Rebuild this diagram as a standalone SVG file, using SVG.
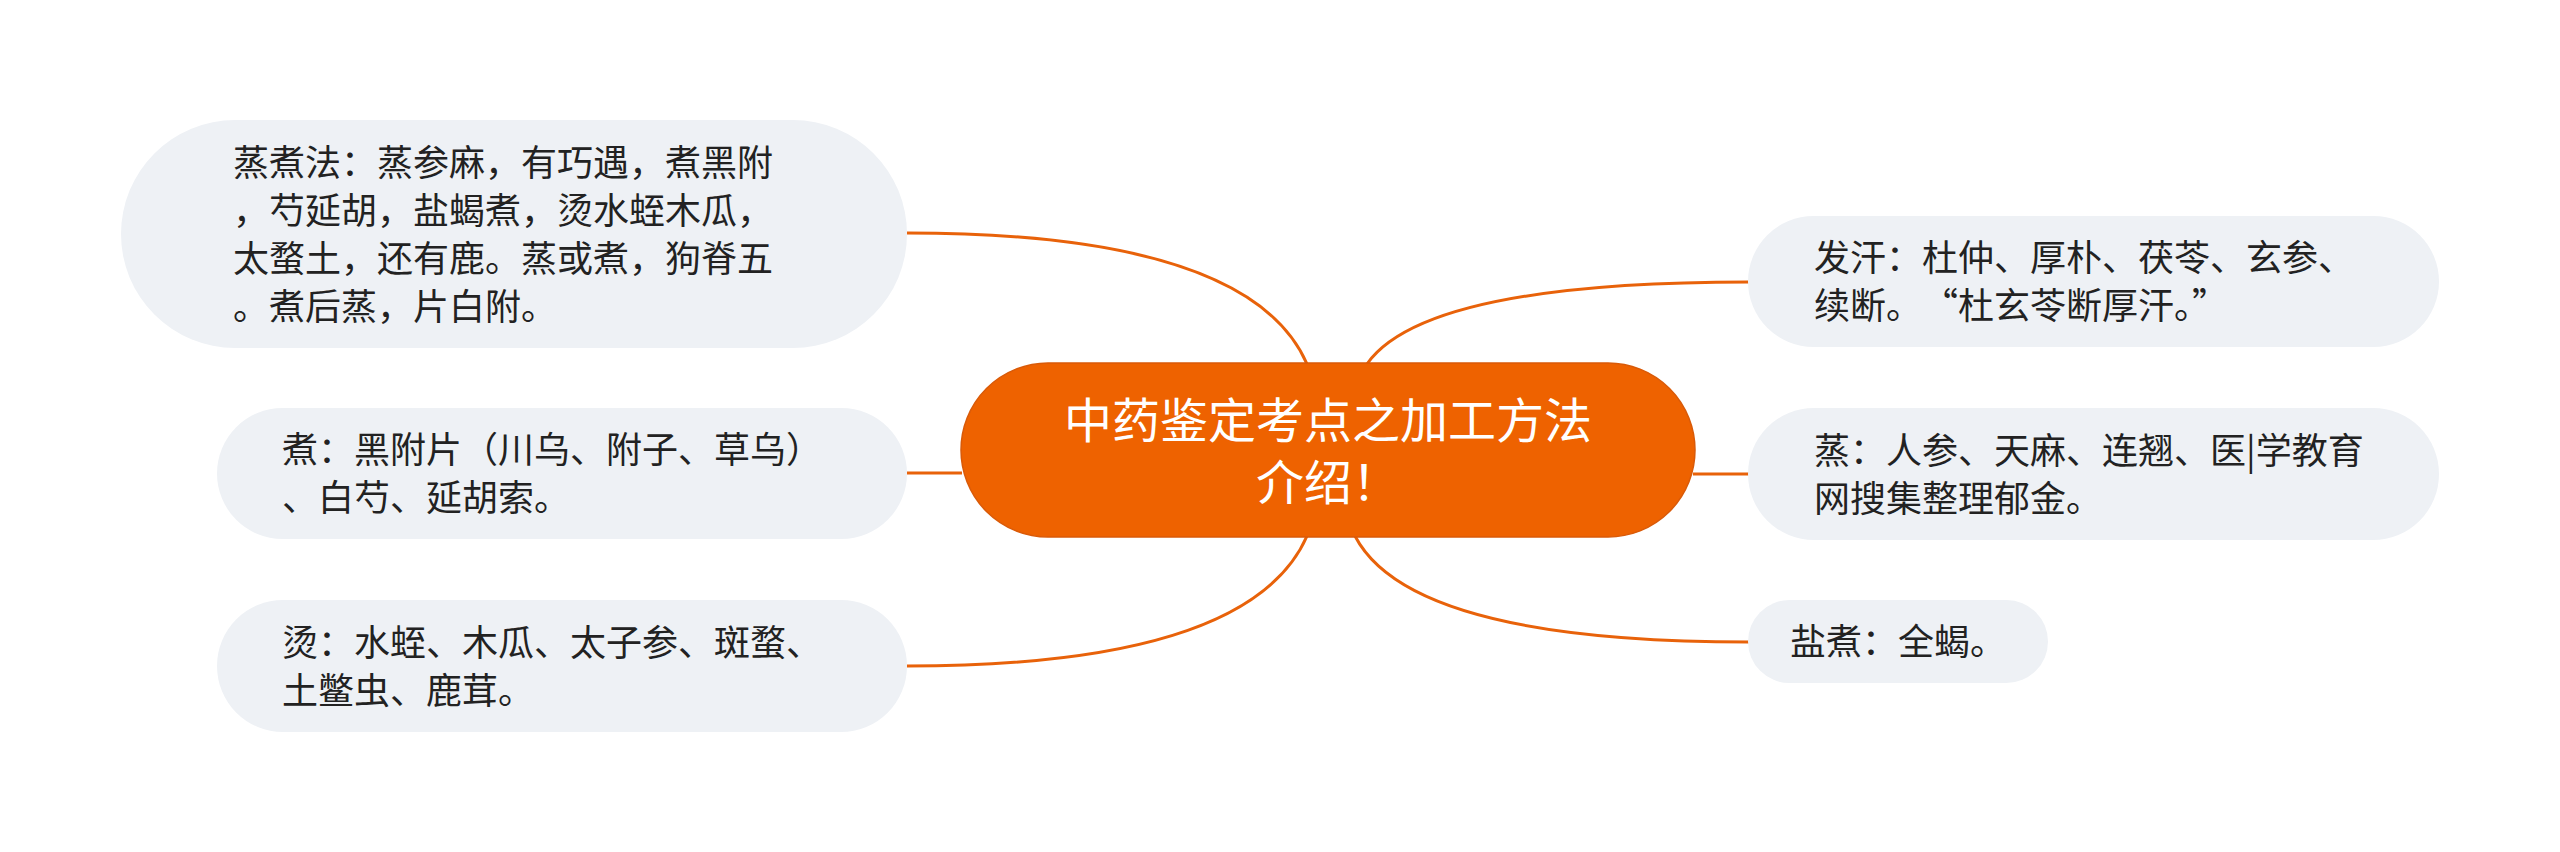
<svg xmlns="http://www.w3.org/2000/svg" width="2560" height="852" viewBox="0 0 2560 852">
  <style>
    .node { fill: #EEF1F5; }
    .txt { font-family: "Noto Sans CJK SC", "Noto Sans", sans-serif; font-size: 36px; fill: #222222; }
    .ctxt { font-family: "Noto Sans CJK SC", "Noto Sans", sans-serif; font-size: 48px; fill: #FFFFFF; }
    .conn { fill: none; stroke: #E8620A; stroke-width: 3; }
  </style>
  <rect width="2560" height="852" fill="#FFFFFF"/>
  <g id="connectors">
    <path class="conn" d="M 907 233 Q 1250 233 1307 364"/>
    <path class="conn" d="M 907 473 L 962 473"/>
    <path class="conn" d="M 1307 536 Q 1250 666 907 666"/>
    <path class="conn" d="M 1367 364 Q 1425 282 1749 282"/>
    <path class="conn" d="M 1693 474 L 1749 474"/>
    <path class="conn" d="M 1355 536 Q 1410 642 1749 642"/>
  </g>
  <g id="center">
    <rect x="961" y="363" width="734" height="174" rx="87" ry="87" fill="#EE6200" stroke="#D95A08" stroke-width="1.5"/>
    <text class="ctxt" x="1328" y="438" text-anchor="middle">中药鉴定考点之加工方法</text>
    <text class="ctxt" x="1328" y="500" text-anchor="middle">介绍！</text>
  </g>
  <g id="node-zhengzhufa">
    <rect class="node" x="121" y="120" width="786" height="228" rx="114" ry="114"/>
    <text class="txt" x="233" y="176">蒸煮法：蒸参麻，有巧遇，煮黑附</text>
    <text class="txt" x="233" y="224">，芍延胡，盐蝎煮，烫水蛭木瓜，</text>
    <text class="txt" x="233" y="272">太蝥土，还有鹿。蒸或煮，狗脊五</text>
    <text class="txt" x="233" y="320">。煮后蒸，片白附。</text>
  </g>
  <g id="node-zhu">
    <rect class="node" x="217" y="408" width="690" height="131" rx="65.5" ry="65.5"/>
    <text class="txt" x="282" y="463">煮：黑附片（川乌、附子、草乌）</text>
    <text class="txt" x="282" y="511">、白芍、延胡索。</text>
  </g>
  <g id="node-tang">
    <rect class="node" x="217" y="600" width="690" height="132" rx="66" ry="66"/>
    <text class="txt" x="282" y="656">烫：水蛭、木瓜、太子参、斑蝥、</text>
    <text class="txt" x="282" y="704">土鳖虫、鹿茸。</text>
  </g>
  <g id="node-fahan">
    <rect class="node" x="1748" y="216" width="691" height="131" rx="65.5" ry="65.5"/>
    <text class="txt" x="1814" y="271">发汗：杜仲、厚朴、茯苓、玄参、</text>
    <text class="txt" x="1814" y="319">续断。</text>
    <text class="txt" x="1958" y="319" text-anchor="end">“</text>
    <text class="txt" x="1958" y="319">杜玄苓断厚汗。”</text>
  </g>
  <g id="node-zheng">
    <rect class="node" x="1748" y="408" width="691" height="132" rx="66" ry="66"/>
    <text class="txt" x="1814" y="464">蒸：人参、天麻、连翘、医|学教育</text>
    <text class="txt" x="1814" y="512">网搜集整理郁金。</text>
  </g>
  <g id="node-yanzhu">
    <rect class="node" x="1748" y="600" width="300" height="83" rx="41.5" ry="41.5"/>
    <text class="txt" x="1790" y="655">盐煮：全蝎。</text>
  </g>
</svg>
